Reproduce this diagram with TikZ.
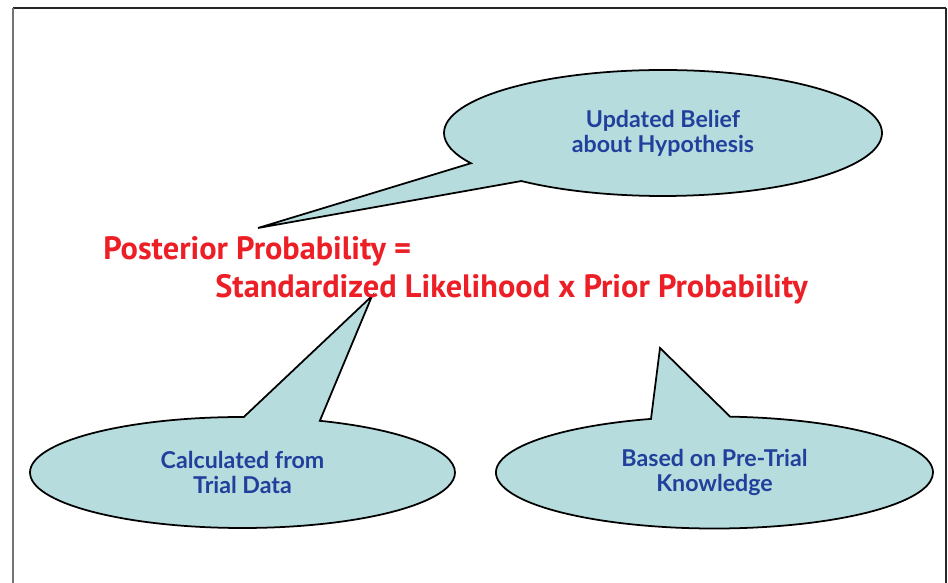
\documentclass[tikz,border=0pt]{standalone}
\usepackage{fontspec}
\usepackage{tikz}
\usetikzlibrary{positioning,shapes.callouts}
\usepackage{xcolor}
\newfontfamily\bubblefont{Lato}
\newfontfamily\formulafont{PT Sans}
\definecolor{bubblefill}{RGB}{182,220,222}
\definecolor{bubbletext}{RGB}{32,64,156}
\definecolor{formulared}{RGB}{236,30,38}
\tikzset{
  balloon/.style={ellipse callout, draw=black, line width=1pt, fill=bubblefill,
    callout pointer arc=21, inner sep=0pt, align=center, text=bubbletext,
    font=\bubblefont\bfseries\fontsize{13.2}{14.3}\selectfont},
  formula/.style={anchor=base west, inner sep=0pt, text=formulared,
    font=\formulafont\bfseries\fontsize{18.4}{20}\selectfont}
}

\begin{document}
\begin{tikzpicture}
\useasboundingbox (0,0) rectangle (18.96,11.66);
\draw[line width=1.1pt, black!85](0.26,11.5)--(18.92,11.5);% top of frame
\draw[line width=1.1pt, black!55](0.26,0)--(0.26,11.5);% left of frame
\draw[line width=0.6pt, black!85](18.92,0)--(18.92,11.5);% right of frame

\coordinate (tipbelief) at (5.16,7.10);
\coordinate (tiplikelihood) at (7.44,5.74);
\coordinate (tipprior) at (13.20,4.70);

\node[balloon, minimum width=8.76cm, minimum height=2.52cm,
  callout absolute pointer={(tipbelief)}] (belief) at (13.26,9.00)
  {Updated Belief\\about Hypothesis};% top balloon
\node[balloon, minimum width=8.50cm, minimum height=2.22cm,
  callout absolute pointer={(tiplikelihood)}] (likelihood) at (4.85,2.21)
  {Calculated from\\Trial Data};% left balloon
\node[balloon, minimum width=8.74cm, minimum height=2.24cm,
  callout absolute pointer={(tipprior)}] (prior) at (14.29,2.21)
  {Based on Pre-Trial\\Knowledge};% right balloon

\node[formula] (posterior) at (2.06,6.46) {Posterior Probability =};
\node[formula] (product) at (4.30,5.70) {Standardized Likelihood x Prior Probability};

\end{tikzpicture}
\end{document}
